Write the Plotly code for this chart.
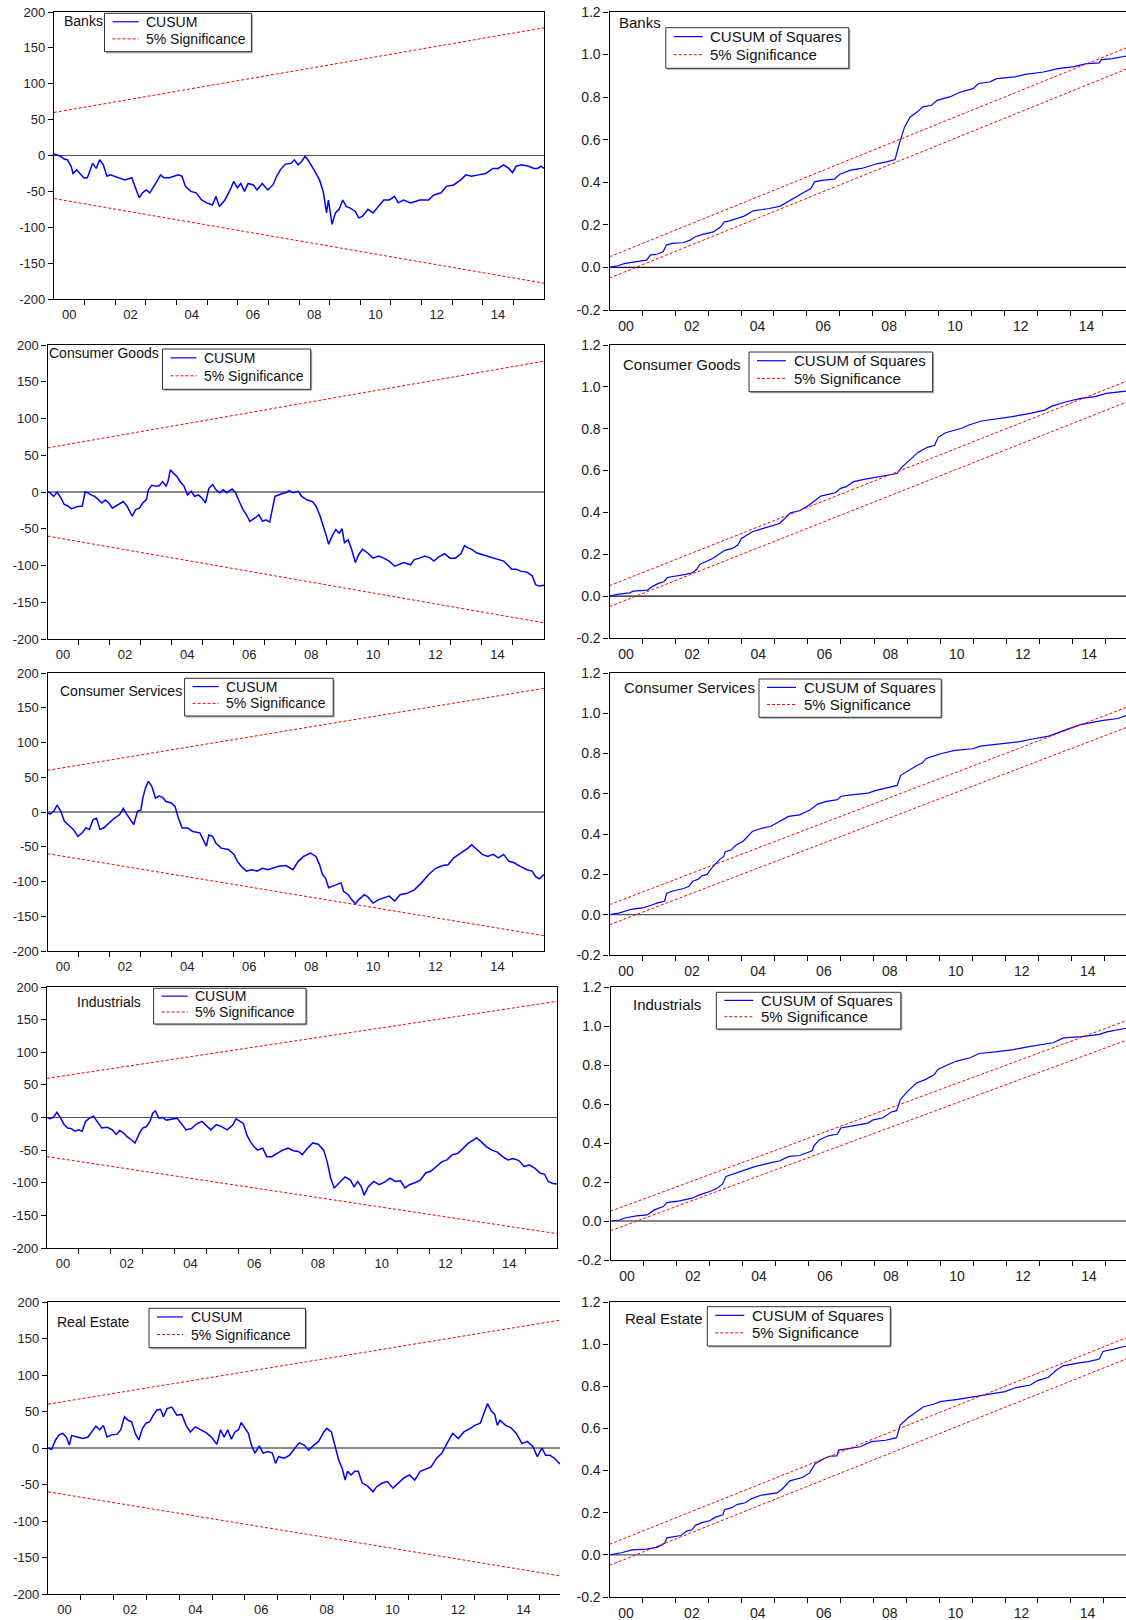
import plotly.graph_objects as go

W, H = 1126, 1620
FONT = "Arial, 'Liberation Sans', sans-serif"

# ---------------- data ----------------
sectors = ["Banks", "Consumer Goods", "Consumer Services", "Industrials", "Real Estate"]
year_labels = ["00", "02", "04", "06", "08", "10", "12", "14"]
year_label_pos = [2000.5, 2002.5, 2004.5, 2006.5, 2008.5, 2010.5, 2012.5, 2014.5]
year_ticks = list(range(2001, 2016))
cusum_ticks = [-200, -150, -100, -50, 0, 50, 100, 150, 200]
cusumsq_ticks = [-0.2, 0.0, 0.2, 0.4, 0.6, 0.8, 1.0, 1.2]
cusumsq_ticktext = ["-0.2", "0.0", "0.2", "0.4", "0.6", "0.8", "1.0", "1.2"]

bound_t = [2000.0, 2016.0]
cusum_upper = [60, 178]
cusum_lower = [-60, -178]
cusumsq_upper = [0.05, 1.05]
cusumsq_lower = [-0.05, 0.95]

banks_cusum_t = [2000.00, 2000.09, 2000.21, 2000.33, 2000.44, 2000.56, 2000.62, 2000.74, 2000.85, 2000.97,
                 2001.09, 2001.20, 2001.26, 2001.38, 2001.49, 2001.61, 2001.73, 2001.84, 2002.08, 2002.31,
                 2002.54, 2002.66, 2002.78, 2002.89, 2003.01, 2003.13, 2003.24, 2003.36, 2003.48, 2003.59,
                 2003.77, 2003.94, 2004.06, 2004.18, 2004.29, 2004.47, 2004.64, 2004.82, 2004.99, 2005.17,
                 2005.29, 2005.40, 2005.58, 2005.75, 2005.87, 2005.99, 2006.10, 2006.22, 2006.34, 2006.51,
                 2006.63, 2006.80, 2006.98, 2007.15, 2007.27, 2007.39, 2007.56, 2007.74, 2007.85, 2007.97,
                 2008.09, 2008.20, 2008.32, 2008.49, 2008.67, 2008.79, 2008.84, 2008.90, 2008.96, 2009.08,
                 2009.19, 2009.31, 2009.43, 2009.54, 2009.66, 2009.84, 2009.95, 2010.07, 2010.25, 2010.42,
                 2010.59, 2010.77, 2010.95, 2011.12, 2011.24, 2011.41, 2011.65, 2011.94, 2012.23, 2012.40,
                 2012.64, 2012.81, 2013.05, 2013.28, 2013.45, 2013.63, 2013.86, 2014.10, 2014.33, 2014.50,
                 2014.68, 2014.85, 2014.97, 2015.09, 2015.26, 2015.50, 2015.67, 2015.79, 2015.90, 2016.00]
banks_cusum = [2, 1, -1, -5, -6, -15, -25, -20, -25, -31,
               -31, -18, -11, -18, -6, -13, -29, -27, -31, -34,
               -31, -45, -59, -52, -48, -52, -45, -36, -27, -31,
               -31, -29, -27, -29, -43, -50, -52, -62, -66, -69,
               -57, -71, -62, -48, -36, -45, -39, -50, -39, -41,
               -48, -39, -48, -41, -29, -20, -12, -11, -6, -13,
               -8, -1, -8, -20, -34, -50, -62, -80, -62, -96,
               -80, -75, -62, -71, -73, -78, -87, -85, -75, -80,
               -71, -62, -62, -57, -66, -62, -66, -62, -62, -55,
               -52, -43, -41, -34, -27, -29, -27, -25, -18, -18,
               -13, -18, -24, -15, -13, -15, -18, -18, -15, -18]

cg_cusum_t = [2000.00, 2000.08, 2000.20, 2000.31, 2000.43, 2000.54, 2000.66, 2000.77, 2000.94, 2001.12,
              2001.21, 2001.29, 2001.40, 2001.52, 2001.63, 2001.75, 2001.86, 2001.98, 2002.09, 2002.27,
              2002.44, 2002.56, 2002.73, 2002.84, 2002.96, 2003.07, 2003.19, 2003.25, 2003.36, 2003.48,
              2003.59, 2003.71, 2003.82, 2003.88, 2003.96, 2004.05, 2004.17, 2004.28, 2004.40, 2004.51,
              2004.63, 2004.74, 2004.86, 2004.97, 2005.09, 2005.20, 2005.32, 2005.43, 2005.55, 2005.66,
              2005.78, 2005.95, 2006.06, 2006.18, 2006.30, 2006.41, 2006.52, 2006.70, 2006.81, 2006.93,
              2007.04, 2007.16, 2007.24, 2007.33, 2007.45, 2007.56, 2007.68, 2007.79, 2007.91, 2008.08,
              2008.19, 2008.37, 2008.54, 2008.65, 2008.77, 2008.88, 2008.96, 2009.06, 2009.17, 2009.29,
              2009.40, 2009.49, 2009.57, 2009.69, 2009.80, 2009.92, 2010.03, 2010.15, 2010.32, 2010.49,
              2010.67, 2010.84, 2011.01, 2011.19, 2011.30, 2011.47, 2011.70, 2011.82, 2011.99, 2012.16,
              2012.34, 2012.45, 2012.62, 2012.80, 2012.97, 2013.14, 2013.32, 2013.44, 2013.55, 2013.67,
              2013.84, 2014.01, 2014.19, 2014.36, 2014.53, 2014.70, 2014.82, 2014.96, 2015.10, 2015.27,
              2015.45, 2015.62, 2015.73, 2015.85, 2016.00]
cg_cusum = [0, -1, -6, 0, -8, -17, -19, -23, -20, -19,
            0, -1, -4, -6, -10, -15, -11, -15, -22, -17,
            -13, -19, -33, -24, -22, -15, -10, 3, 9, 8,
            8, 14, 8, 14, 30, 26, 21, 14, 8, -4,
            1, -6, -4, -8, -15, 5, 10, 3, -1, 3,
            -1, 4, -1, -13, -24, -31, -40, -35, -31, -40,
            -38, -41, -26, -6, -4, -2, -1, 2, -1, 1,
            -6, -11, -13, -19, -31, -44, -56, -71, -60, -51,
            -56, -50, -69, -65, -78, -96, -85, -78, -83, -90,
            -87, -90, -94, -101, -99, -96, -99, -92, -90, -87,
            -90, -94, -88, -84, -90, -90, -84, -73, -76, -78,
            -83, -85, -87, -90, -92, -94, -99, -105, -105, -108,
            -109, -114, -126, -128, -127]

cs_cusum_t = [2000.00, 2000.08, 2000.20, 2000.31, 2000.43, 2000.54, 2000.66, 2000.83, 2000.98, 2001.12,
              2001.23, 2001.35, 2001.47, 2001.58, 2001.69, 2001.81, 2001.98, 2002.15, 2002.32, 2002.44,
              2002.55, 2002.67, 2002.78, 2002.90, 2003.01, 2003.07, 2003.16, 2003.25, 2003.36, 2003.48,
              2003.59, 2003.71, 2003.82, 2003.99, 2004.11, 2004.22, 2004.34, 2004.51, 2004.68, 2004.91,
              2005.03, 2005.12, 2005.20, 2005.32, 2005.43, 2005.60, 2005.83, 2006.01, 2006.12, 2006.24,
              2006.41, 2006.58, 2006.75, 2006.93, 2007.10, 2007.27, 2007.45, 2007.68, 2007.91, 2008.08,
              2008.25, 2008.48, 2008.65, 2008.77, 2008.86, 2008.96, 2009.06, 2009.17, 2009.29, 2009.46,
              2009.54, 2009.69, 2009.80, 2009.92, 2010.03, 2010.21, 2010.32, 2010.49, 2010.67, 2010.84,
              2011.01, 2011.19, 2011.36, 2011.59, 2011.82, 2012.05, 2012.28, 2012.51, 2012.74, 2012.91,
              2013.09, 2013.26, 2013.43, 2013.55, 2013.67, 2013.84, 2014.01, 2014.19, 2014.36, 2014.53,
              2014.70, 2014.87, 2015.04, 2015.22, 2015.45, 2015.62, 2015.73, 2015.85, 2016.00]
cs_cusum = [-1, -3, 1, 10, 1, -13, -18, -25, -35, -30,
            -23, -25, -11, -9, -25, -23, -16, -9, -4, 5,
            -3, -11, -18, 1, 3, 20, 35, 44, 37, 20,
            23, 21, 15, 13, 8, -9, -23, -23, -28, -30,
            -40, -49, -33, -35, -45, -52, -54, -61, -71, -78,
            -85, -83, -85, -81, -83, -81, -78, -77, -83, -71,
            -64, -59, -64, -76, -90, -95, -109, -107, -105, -102,
            -114, -119, -126, -132, -126, -119, -122, -131, -126, -123,
            -121, -128, -119, -117, -112, -102, -90, -81, -77, -76,
            -66, -61, -56, -52, -47, -54, -61, -64, -61, -66,
            -61, -71, -73, -78, -83, -85, -93, -96, -90]

ind_cusum_t = [2000.00, 2000.09, 2000.20, 2000.31, 2000.43, 2000.54, 2000.65, 2000.76, 2000.88, 2000.99,
               2001.10, 2001.21, 2001.33, 2001.46, 2001.57, 2001.72, 2001.89, 2002.05, 2002.17, 2002.28,
               2002.39, 2002.50, 2002.62, 2002.76, 2002.90, 2003.01, 2003.12, 2003.23, 2003.32, 2003.40,
               2003.51, 2003.63, 2003.74, 2003.91, 2004.08, 2004.24, 2004.36, 2004.53, 2004.69, 2004.86,
               2005.03, 2005.14, 2005.31, 2005.48, 2005.65, 2005.82, 2005.93, 2006.05, 2006.16, 2006.27,
               2006.38, 2006.50, 2006.61, 2006.77, 2006.89, 2007.05, 2007.22, 2007.39, 2007.56, 2007.73,
               2007.89, 2008.01, 2008.17, 2008.34, 2008.51, 2008.68, 2008.79, 2008.90, 2009.01, 2009.12,
               2009.24, 2009.35, 2009.52, 2009.63, 2009.75, 2009.86, 2009.95, 2010.08, 2010.25, 2010.42,
               2010.59, 2010.76, 2010.93, 2011.09, 2011.23, 2011.37, 2011.54, 2011.71, 2011.88, 2012.05,
               2012.22, 2012.38, 2012.55, 2012.72, 2012.89, 2013.06, 2013.23, 2013.40, 2013.47, 2013.62,
               2013.79, 2013.96, 2014.13, 2014.29, 2014.46, 2014.63, 2014.80, 2014.97, 2015.14, 2015.31,
               2015.47, 2015.61, 2015.72, 2015.87, 2016.00]
ind_cusum = [0, -2, 0, 8, -1, -11, -16, -17, -21, -19,
             -21, -6, -1, 2, -6, -16, -15, -19, -26, -20,
             -23, -29, -33, -39, -24, -16, -14, -6, 7, 10,
             -1, 0, -4, -2, -1, -11, -19, -17, -10, -6,
             -14, -19, -11, -14, -19, -12, -2, -6, -9, -27,
             -37, -45, -50, -47, -60, -60, -55, -50, -47, -51,
             -52, -57, -47, -39, -41, -50, -68, -93, -108, -103,
             -96, -91, -96, -106, -98, -106, -119, -106, -98, -103,
             -99, -93, -98, -97, -108, -103, -100, -96, -85, -82,
             -75, -68, -65, -57, -55, -47, -39, -34, -31, -37,
             -45, -50, -53, -60, -65, -63, -66, -75, -73, -78,
             -85, -87, -98, -101, -102]

re_cusum_t = [2000.00, 2000.11, 2000.23, 2000.34, 2000.45, 2000.56, 2000.65, 2000.72, 2000.89, 2001.06,
              2001.22, 2001.33, 2001.46, 2001.58, 2001.69, 2001.80, 2001.94, 2002.11, 2002.22, 2002.33,
              2002.44, 2002.55, 2002.66, 2002.77, 2002.88, 2002.99, 2003.10, 2003.21, 2003.32, 2003.43,
              2003.52, 2003.63, 2003.77, 2003.93, 2004.08, 2004.21, 2004.34, 2004.49, 2004.65, 2004.82,
              2004.98, 2005.15, 2005.26, 2005.37, 2005.48, 2005.59, 2005.70, 2005.81, 2005.89, 2006.00,
              2006.11, 2006.20, 2006.31, 2006.44, 2006.56, 2006.70, 2006.84, 2006.94, 2007.03, 2007.20,
              2007.36, 2007.53, 2007.66, 2007.81, 2007.95, 2008.08, 2008.25, 2008.41, 2008.50, 2008.64,
              2008.75, 2008.86, 2008.97, 2009.06, 2009.13, 2009.24, 2009.35, 2009.46, 2009.58, 2009.74,
              2009.91, 2010.02, 2010.19, 2010.35, 2010.52, 2010.68, 2010.85, 2011.02, 2011.18, 2011.35,
              2011.51, 2011.68, 2011.85, 2012.01, 2012.16, 2012.34, 2012.51, 2012.68, 2012.84, 2013.01,
              2013.18, 2013.29, 2013.40, 2013.51, 2013.62, 2013.70, 2013.78, 2013.95, 2014.11, 2014.28,
              2014.45, 2014.61, 2014.78, 2014.92, 2015.06, 2015.17, 2015.30, 2015.44, 2015.61]
re_cusum = [0, -2, 11, 18, 20, 15, 4, 17, 15, 13,
            15, 22, 30, 25, 31, 15, 18, 19, 25, 43,
            38, 36, 20, 11, 27, 34, 36, 45, 52, 53,
            43, 54, 56, 45, 46, 31, 22, 29, 25, 21,
            15, 5, 25, 15, 25, 12, 22, 25, 35, 27,
            20, 4, -7, 3, -7, -5, -7, -21, -12, -14,
            -10, 0, 7, 4, -3, 3, 9, 22, 27, 22,
            4, -16, -28, -44, -32, -37, -32, -32, -48, -52,
            -60, -53, -48, -46, -55, -48, -41, -37, -44, -32,
            -29, -26, -14, -7, 6, 20, 13, 22, 26, 31,
            34, 47, 61, 51, 46, 31, 38, 31, 28, 20,
            6, 9, 2, -12, 0, -10, -10, -14, -22]

banks_sq_t = [2000.00, 2000.25, 2000.47, 2000.80, 2001.13, 2001.24, 2001.46, 2001.63, 2001.73, 2001.90,
              2002.23, 2002.45, 2002.61, 2002.83, 2003.16, 2003.38, 2003.49, 2003.65, 2003.87, 2004.09,
              2004.37, 2004.64, 2004.86, 2005.19, 2005.52, 2005.85, 2006.12, 2006.23, 2006.50, 2006.83,
              2007.00, 2007.33, 2007.66, 2007.93, 2008.15, 2008.42, 2008.68, 2008.81, 2008.97, 2009.14,
              2009.36, 2009.52, 2009.79, 2009.96, 2010.34, 2010.67, 2011.05, 2011.22, 2011.55, 2011.77,
              2012.32, 2012.64, 2013.19, 2013.63, 2014.07, 2014.51, 2014.89, 2014.95, 2015.28, 2015.68, 2016.00]
banks_sq = [0.0, 0.008, 0.019, 0.027, 0.034, 0.058, 0.063, 0.074, 0.105, 0.113,
            0.116, 0.128, 0.144, 0.155, 0.167, 0.191, 0.214, 0.219, 0.230, 0.241,
            0.266, 0.272, 0.277, 0.288, 0.319, 0.347, 0.371, 0.402, 0.410, 0.415,
            0.438, 0.457, 0.465, 0.477, 0.488, 0.496, 0.507, 0.582, 0.660, 0.707,
            0.731, 0.754, 0.762, 0.785, 0.801, 0.824, 0.840, 0.864, 0.871, 0.887,
            0.895, 0.907, 0.918, 0.934, 0.942, 0.957, 0.961, 0.976, 0.981, 0.992, 1.0]

cg_sq_t = [2000.00, 2000.28, 2000.61, 2000.72, 2001.15, 2001.32, 2001.48, 2001.64, 2001.75, 2002.03,
           2002.30, 2002.52, 2002.63, 2002.74, 2002.90, 2003.12, 2003.34, 2003.50, 2003.72, 2003.88,
           2003.99, 2004.32, 2004.65, 2004.97, 2005.14, 2005.30, 2005.47, 2005.74, 2005.96, 2006.17,
           2006.39, 2006.83, 2006.99, 2007.16, 2007.38, 2007.70, 2008.03, 2008.36, 2008.69, 2008.85,
           2009.07, 2009.34, 2009.61, 2009.83, 2009.94, 2010.16, 2010.65, 2010.87, 2011.25, 2011.63,
           2012.18, 2012.72, 2013.16, 2013.38, 2013.82, 2014.25, 2014.69, 2015.02, 2015.34, 2015.63, 2016.00]
cg_sq = [0.0, 0.010, 0.016, 0.024, 0.029, 0.048, 0.061, 0.069, 0.089, 0.096,
         0.104, 0.113, 0.127, 0.153, 0.164, 0.180, 0.204, 0.220, 0.228, 0.244,
         0.276, 0.308, 0.324, 0.339, 0.347, 0.371, 0.398, 0.408, 0.427, 0.451,
         0.478, 0.494, 0.515, 0.523, 0.547, 0.558, 0.567, 0.574, 0.586, 0.618,
         0.650, 0.688, 0.711, 0.720, 0.759, 0.781, 0.802, 0.818, 0.837, 0.845,
         0.858, 0.873, 0.889, 0.908, 0.929, 0.945, 0.953, 0.969, 0.974, 0.980, 1.0]

cs_sq_t = [2000.00, 2000.28, 2000.66, 2001.04, 2001.26, 2001.48, 2001.67, 2001.73, 2001.92, 2002.25,
           2002.41, 2002.52, 2002.69, 2002.80, 2002.96, 2003.13, 2003.35, 2003.46, 2003.51, 2003.68,
           2003.84, 2004.06, 2004.33, 2004.61, 2004.88, 2005.05, 2005.21, 2005.43, 2005.76, 2006.09,
           2006.31, 2006.58, 2006.91, 2007.02, 2007.40, 2007.84, 2008.06, 2008.39, 2008.72, 2008.83,
           2009.10, 2009.32, 2009.49, 2009.60, 2009.82, 2010.04, 2010.47, 2011.02, 2011.24, 2011.79,
           2012.45, 2012.78, 2013.32, 2013.87, 2014.31, 2014.97, 2015.41, 2015.69, 2016.00]
cs_sq = [0.0, 0.008, 0.027, 0.035, 0.047, 0.060, 0.067, 0.105, 0.118, 0.130,
         0.141, 0.166, 0.176, 0.193, 0.200, 0.238, 0.276, 0.288, 0.313, 0.321,
         0.346, 0.366, 0.413, 0.429, 0.438, 0.454, 0.466, 0.488, 0.496, 0.521,
         0.549, 0.563, 0.571, 0.588, 0.596, 0.604, 0.616, 0.629, 0.642, 0.692,
         0.721, 0.741, 0.754, 0.776, 0.787, 0.799, 0.816, 0.824, 0.837, 0.846,
         0.859, 0.871, 0.887, 0.920, 0.945, 0.965, 0.974, 0.990, 1.0]

ind_sq_t = [2000.00, 2000.29, 2000.40, 2000.78, 2001.11, 2001.33, 2001.60, 2001.71, 2002.09, 2002.47,
            2002.69, 2003.01, 2003.23, 2003.39, 2003.50, 2003.72, 2003.94, 2004.37, 2004.81, 2005.13,
            2005.41, 2005.73, 2006.11, 2006.17, 2006.33, 2006.60, 2006.88, 2006.98, 2007.42, 2007.80,
            2007.96, 2008.24, 2008.51, 2008.67, 2008.78, 2009.00, 2009.27, 2009.54, 2009.81, 2009.92,
            2010.19, 2010.47, 2010.90, 2011.17, 2011.66, 2012.21, 2012.64, 2013.08, 2013.41, 2013.73,
            2014.28, 2014.82, 2015.04, 2015.54, 2016.00]
ind_sq = [0.0, 0.005, 0.014, 0.026, 0.031, 0.057, 0.074, 0.094, 0.103, 0.117,
          0.134, 0.151, 0.168, 0.189, 0.228, 0.240, 0.254, 0.279, 0.297, 0.309,
          0.331, 0.336, 0.360, 0.387, 0.417, 0.437, 0.446, 0.477, 0.490, 0.502,
          0.519, 0.528, 0.559, 0.566, 0.622, 0.665, 0.708, 0.725, 0.751, 0.777,
          0.799, 0.819, 0.837, 0.859, 0.867, 0.879, 0.893, 0.905, 0.914, 0.939,
          0.946, 0.957, 0.970, 0.986, 1.0]

re_sq_t = [2000.00, 2000.36, 2000.69, 2001.13, 2001.46, 2001.68, 2001.74, 2002.01, 2002.17, 2002.34,
           2002.50, 2002.61, 2002.78, 2003.05, 2003.22, 2003.44, 2003.49, 2003.71, 2003.88, 2004.10,
           2004.32, 2004.59, 2005.08, 2005.25, 2005.47, 2005.85, 2006.07, 2006.24, 2006.51, 2006.68,
           2006.90, 2006.95, 2007.28, 2007.61, 2007.94, 2008.38, 2008.71, 2008.82, 2009.04, 2009.31,
           2009.53, 2009.86, 2010.03, 2010.57, 2011.12, 2011.51, 2012.00, 2012.33, 2012.77, 2012.99,
           2013.32, 2013.54, 2013.76, 2014.20, 2014.53, 2014.86, 2014.97, 2015.30, 2015.69, 2016.00]
re_sq = [0.0, 0.010, 0.024, 0.027, 0.037, 0.056, 0.081, 0.087, 0.092, 0.113,
         0.119, 0.140, 0.152, 0.163, 0.179, 0.190, 0.214, 0.224, 0.240, 0.246,
         0.267, 0.283, 0.294, 0.314, 0.351, 0.367, 0.389, 0.433, 0.457, 0.468,
         0.470, 0.497, 0.505, 0.513, 0.537, 0.544, 0.556, 0.616, 0.648, 0.679,
         0.703, 0.716, 0.727, 0.738, 0.751, 0.763, 0.775, 0.794, 0.806, 0.827,
         0.843, 0.875, 0.897, 0.910, 0.917, 0.929, 0.965, 0.976, 0.992, 1.0]

# ---------------- layout (pixel geometry) ----------------
def fx(px):
    return px / W


def fy(py):
    return 1 - py / H


# kind, sector, t, v, plot box (l, t, r, b), xmax, right border, label (x, y), legend box (l, t, r, b), zero colour
panels = [
    ("cusum", 0, banks_cusum_t, banks_cusum, (54, 12, 544, 299), 2016.0, True, (62, 21),
     (104.5, 13.3, 251.4, 51.7), "#555555"),
    ("sq", 0, banks_sq_t, banks_sq, (609.5, 12, 1126, 310), 2015.70, False, (617, 23),
     (665.8, 27.7, 848.8, 68.3), "#111111"),
    ("cusum", 1, cg_cusum_t, cg_cusum, (47.5, 345, 544, 639), 2016.0, True, (46.5, 353),
     (162.5, 349, 310.7, 389.3), "#111111"),
    ("sq", 1, cg_sq_t, cg_sq, (609.5, 345, 1126, 638), 2015.62, False, (620.5, 364),
     (749, 352, 932.6, 391.7), "#111111"),
    ("cusum", 2, cs_cusum_t, cs_cusum, (47.5, 673, 544, 951), 2016.0, True, (58, 691),
     (184.6, 678.3, 333.2, 716), "#111111"),
    ("sq", 2, cs_sq_t, cs_sq, (609.5, 673, 1126, 955), 2015.66, False, (621.5, 687),
     (759, 679, 941.2, 717.3), "#555555"),
    ("cusum", 3, ind_cusum_t, ind_cusum, (47, 987, 557, 1248), 2016.0, True, (75, 1002),
     (153.6, 988.3, 306, 1024), "#555555"),
    ("sq", 3, ind_sq_t, ind_sq, (610.5, 987, 1126, 1260), 2015.62, False, (630.5, 1004),
     (716.3, 992.3, 900.8, 1029), "#111111"),
    ("cusum", 4, re_cusum_t, re_cusum, (48, 1302, 560, 1594), 2015.61, False, (54.5, 1322),
     (149, 1308.3, 305.5, 1347.7), "#111111"),
    ("sq", 4, re_sq_t, re_sq, (609.5, 1302, 1126, 1597), 2015.67, False, (623, 1318),
     (707.3, 1306.7, 890.3, 1346), "#555555"),
]

BLUE = "#0000FF"
RED = "#FF0000"
DASH = "3px,2px"

fig = go.Figure()
layout = dict(
    width=W, height=H,
    margin=dict(l=0, r=0, t=0, b=0, autoexpand=False),
    paper_bgcolor="white", plot_bgcolor="white",
    font=dict(family=FONT, color="#222222"),
    showlegend=False,
    annotations=[], shapes=[],
)

for i, (kind, si, t, v, box, xmax, rborder, lab, leg, zc) in enumerate(panels, start=1):
    if len(t) != len(v):
        raise ValueError(f"length mismatch in panel {i}: {len(t)} vs {len(v)}")
    l, tp, r, b = box
    sfx = "" if i == 1 else str(i)
    xa, ya = "x" + sfx, "y" + sfx
    is_sq = kind == "sq"
    tick_fs = 14 if is_sq else 13
    txt_fs = 15 if is_sq else 14

    if is_sq:
        up, lo = cusumsq_upper, cusumsq_lower
        name = "CUSUM of Squares"
        yr = [-0.2, 1.2]
        ytv, ytt = cusumsq_ticks, cusumsq_ticktext
        lw = 1.2
        sample_len = 29
    else:
        up, lo = cusum_upper, cusum_lower
        name = "CUSUM"
        yr = [-200, 200]
        ytv, ytt = cusum_ticks, [str(k) for k in cusum_ticks]
        lw = 1.5
        sample_len = 26

    fig.add_trace(go.Scatter(x=t, y=v, mode="lines", name=name, xaxis=xa, yaxis=ya,
                             line=dict(color=BLUE, width=lw), hoverinfo="skip"))
    fig.add_trace(go.Scatter(x=bound_t, y=up, mode="lines", name="5% Significance", xaxis=xa, yaxis=ya,
                             line=dict(color=RED, width=1, dash=DASH), hoverinfo="skip"))
    fig.add_trace(go.Scatter(x=bound_t, y=lo, mode="lines", name="5% Significance", xaxis=xa, yaxis=ya,
                             line=dict(color=RED, width=1, dash=DASH), hoverinfo="skip"))

    layout["xaxis" + sfx] = dict(
        domain=[fx(l), fx(r)], range=[2000.0, xmax], anchor=ya,
        showline=True, linecolor="black", linewidth=1.2, mirror=True,
        tickmode="array", tickvals=year_label_pos, ticktext=year_labels,
        ticks="outside", ticklen=3, tickcolor="rgba(0,0,0,0)",
        tickfont=dict(size=tick_fs, family=FONT, color="#222222"),
        minor=dict(tickmode="array", tickvals=year_ticks, ticks="outside", ticklen=5,
                   tickcolor="black", tickwidth=1, showgrid=False),
        showgrid=False, zeroline=False, fixedrange=True,
    )
    layout["yaxis" + sfx] = dict(
        domain=[fy(b), fy(tp)], range=yr, anchor=xa,
        showline=True, linecolor="black", linewidth=1.2, mirror=rborder,
        tickmode="array", tickvals=ytv, ticktext=ytt,
        ticks="outside", ticklen=5, tickcolor="black",
        tickfont=dict(size=tick_fs, family=FONT, color="#222222"),
        showgrid=False, zeroline=False, fixedrange=True,
    )

    # zero reference line
    layout["shapes"].append(dict(
        type="line", xref=f"{xa} domain", yref=ya, x0=0, x1=1, y0=0, y1=0,
        line=dict(color=zc, width=1.2), layer="below",
    ))

    # sector label
    layout["annotations"].append(dict(
        text=sectors[si], x=fx(lab[0]), y=fy(lab[1]), xref="paper", yref="paper",
        xanchor="left", yanchor="middle", showarrow=False,
        font=dict(size=txt_fs, family=FONT, color="#111111"),
    ))

    # EViews-style legend box
    ll, lt, lr, lb = leg
    lh = lb - lt
    row1, row2 = lt + 0.22 * lh, lt + 0.665 * lh
    sx0, sx1 = ll + 8, ll + 8 + sample_len
    layout["shapes"] += [
        dict(type="rect", xref="paper", yref="paper", x0=fx(ll + 1.5), x1=fx(lr + 1.5),
             y0=fy(lb + 1.5), y1=fy(lt + 1.5), fillcolor="#a8a8a8", line=dict(width=0)),
        dict(type="rect", xref="paper", yref="paper", x0=fx(ll), x1=fx(lr), y0=fy(lb), y1=fy(lt),
             fillcolor="white", line=dict(color="#303030", width=1)),
        dict(type="line", xref="paper", yref="paper", x0=fx(sx0), x1=fx(sx1), y0=fy(row1), y1=fy(row1),
             line=dict(color=BLUE, width=1.2)),
        dict(type="line", xref="paper", yref="paper", x0=fx(sx0), x1=fx(sx1), y0=fy(row2), y1=fy(row2),
             line=dict(color=RED, width=1, dash=DASH)),
    ]
    for txt, ry in ((name, row1), ("5% Significance", row2)):
        layout["annotations"].append(dict(
            text=txt, x=fx(sx1 + 5.5), y=fy(ry), xref="paper", yref="paper",
            xanchor="left", yanchor="middle", showarrow=False,
            font=dict(size=txt_fs, family=FONT, color="#111111"),
        ))

fig.update_layout(**layout)
# the browser's default 8px body margin would push the fixed-size figure off the window edge
fig.write_html("out.html", config={"displayModeBar": False},
               post_script="document.body.style.margin='0px';")
